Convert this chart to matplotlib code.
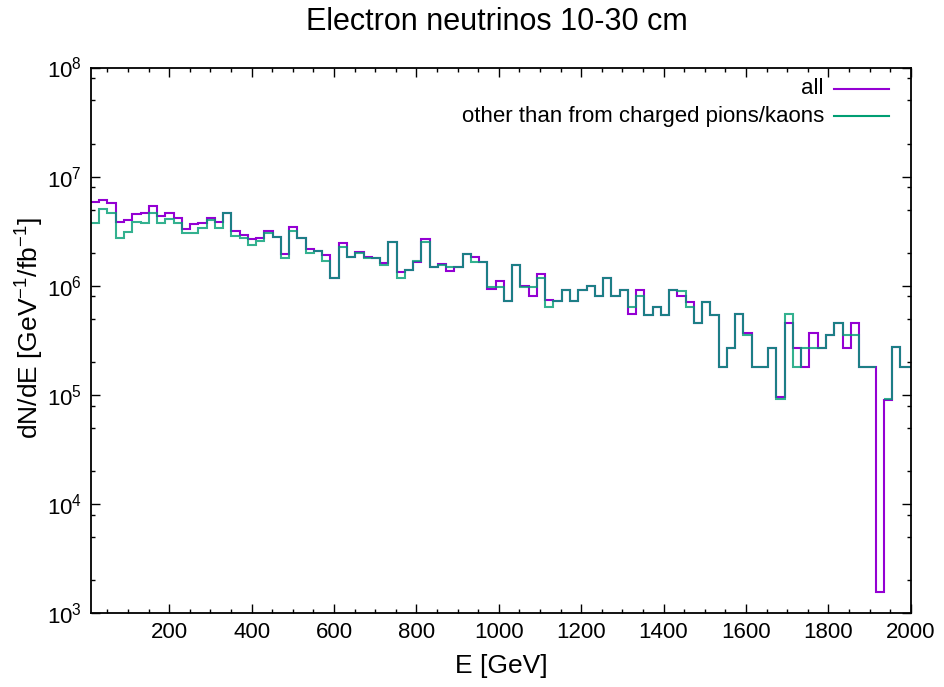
import matplotlib
matplotlib.use("Agg")
import matplotlib.pyplot as plt
import numpy as np
from matplotlib.ticker import MultipleLocator, FixedLocator, LogFormatterSciNotation, NullFormatter

plt.rcParams['font.family'] = ['Liberation Sans', 'DejaVu Sans']
plt.rcParams['mathtext.fontset'] = 'custom'
plt.rcParams['mathtext.rm'] = 'Liberation Sans'
plt.rcParams['mathtext.it'] = 'Liberation Sans:italic'
plt.rcParams['mathtext.default'] = 'regular'

# bin edges in GeV (first bin starts at 10, last one runs to 2000)
edges = np.concatenate([[10.0], 30.0 + 20.05 * np.arange(98), [2000.0]])

# dN/dE, all electron neutrinos
all_vals = [
    5.90e6, 6.11e6, 5.78e6, 3.87e6, 3.98e6, 4.52e6, 4.67e6, 5.42e6, 4.36e6, 4.67e6,
    4.21e6, 3.32e6, 3.66e6, 3.79e6, 4.21e6, 3.87e6, 4.67e6, 3.20e6, 2.94e6, 2.69e6,
    2.76e6, 3.20e6, 2.82e6, 1.94e6, 3.49e6, 2.72e6, 2.16e6, 2.08e6, 1.90e6, 1.17e6,
    2.45e6, 1.83e6, 2.04e6, 1.85e6, 1.80e6, 1.61e6, 2.50e6, 1.34e6, 1.40e6, 1.65e6,
    2.67e6, 1.48e6, 1.59e6, 1.38e6, 1.48e6, 1.96e6, 1.85e6, 1.65e6, 9.29e5, 1.10e6,
    7.31e5, 1.55e6, 1.00e6, 8.12e5, 1.28e6, 7.42e5, 7.31e5, 9.10e5, 7.31e5, 9.10e5,
    9.96e5, 8.12e5, 1.17e6, 8.12e5, 9.10e5, 5.48e5, 9.10e5, 5.40e5, 6.36e5, 5.40e5,
    9.10e5, 8.12e5, 7.15e5, 4.56e5, 7.15e5, 5.44e5, 1.82e5, 2.71e5, 5.48e5, 3.67e5,
    1.82e5, 1.82e5, 2.71e5, 9.52e4, 4.54e5, 2.71e5, 1.82e5, 3.67e5, 2.71e5, 3.54e5,
    4.54e5, 2.71e5, 4.54e5, 1.82e5, 1.82e5, 1.56e3, 8.99e4, 2.73e5, 1.82e5,
]

# dN/dE, not from charged pion / kaon decays
other_vals = [
    3.79e6, 5.05e6, 4.67e6, 2.76e6, 3.13e6, 3.87e6, 3.76e6, 4.67e6, 3.76e6, 4.12e6,
    3.76e6, 3.07e6, 3.07e6, 3.41e6, 3.98e6, 3.41e6, 4.62e6, 2.86e6, 2.76e6, 2.35e6,
    2.57e6, 3.03e6, 2.78e6, 1.81e6, 3.21e6, 2.72e6, 1.99e6, 2.08e6, 1.70e6, 1.17e6,
    2.25e6, 1.83e6, 1.99e6, 1.80e6, 1.80e6, 1.55e6, 2.50e6, 1.17e6, 1.40e6, 1.70e6,
    2.52e6, 1.48e6, 1.55e6, 1.48e6, 1.48e6, 1.96e6, 1.65e6, 1.65e6, 9.69e5, 9.75e5,
    7.31e5, 1.55e6, 9.82e5, 9.82e5, 1.17e6, 6.40e5, 7.31e5, 9.10e5, 7.31e5, 9.10e5,
    9.96e5, 8.12e5, 1.17e6, 8.12e5, 9.10e5, 6.36e5, 8.12e5, 5.40e5, 6.36e5, 5.40e5,
    9.10e5, 8.91e5, 6.36e5, 4.56e5, 7.15e5, 5.44e5, 1.82e5, 2.71e5, 5.48e5, 3.54e5,
    1.82e5, 1.82e5, 2.71e5, 9.13e4, 5.48e5, 1.82e5, 2.71e5, 2.71e5, 2.71e5, 3.54e5,
    4.54e5, 3.54e5, 3.54e5, 1.82e5, 1.82e5, np.nan, 9.13e4, 2.73e5, 1.82e5,
]

labels = ["all", "other than from charged pions/kaons"]
colors = ["#9400D3", "#009E73"]

W, H = 944, 687
L, R, T, B = 91, 910.7, 67.5, 613.3

fig = plt.figure(figsize=(W / 100, H / 100), dpi=100)
ax = fig.add_axes([L / W, 1 - B / H, (R - L) / W, (B - T) / H])

ax.stairs(all_vals, edges, baseline=None, color=colors[0], lw=1.5)
ax.stairs(other_vals, edges, baseline=None, color=colors[1], lw=1.5, alpha=0.8)

ax.set_yscale('log')
ax.set_xlim(10, 2000)
ax.set_ylim(1e3, 1e8)

ax.xaxis.set_major_locator(FixedLocator(np.arange(200, 2001, 200)))
ax.xaxis.set_minor_locator(MultipleLocator(50))
ax.yaxis.set_major_formatter(LogFormatterSciNotation())
ax.yaxis.set_minor_locator(FixedLocator([m * 10.0**e for e in range(3, 8) for m in (2, 5, 8)]))
ax.yaxis.set_minor_formatter(NullFormatter())

ax.tick_params(which='both', direction='in', top=True, right=True, labelsize=16, width=1.0)
ax.tick_params(which='major', length=6.5)
ax.tick_params(which='minor', length=3.2)
ax.tick_params(axis='x', pad=6.5)
ax.tick_params(axis='y', pad=6.5)
for s in ax.spines.values():
    s.set_linewidth(1.3)

fig.text(497 / W, 1 - 22 / H, "Electron neutrinos 10-30 cm", ha='center', va='center', fontsize=22)
fig.text(501 / W, 1 - 666 / H, "E [GeV]", ha='center', va='center', fontsize=19)
fig.text(30 / W, 1 - 328 / H, "dN/dE [GeV$^{-1}$/fb$^{-1}$]", ha='center', va='center',
         rotation=90, fontsize=19)

# legend drawn gnuplot style: right-aligned text, then the line sample
def ax_x(px):
    return (px - L) / (R - L)

def ax_y(py):
    return (B - py) / (B - T)

for i, (lab, c) in enumerate(zip(labels, colors)):
    py = 88.5 + i * 27.8
    ax.text(ax_x(824), ax_y(py), lab, transform=ax.transAxes, ha='right', va='center', fontsize=16)
    ax.plot([ax_x(834), ax_x(889)], [ax_y(py), ax_y(py)], transform=ax.transAxes,
            color=c, lw=1.5, clip_on=False)

fig.savefig("out.png", dpi=100)
